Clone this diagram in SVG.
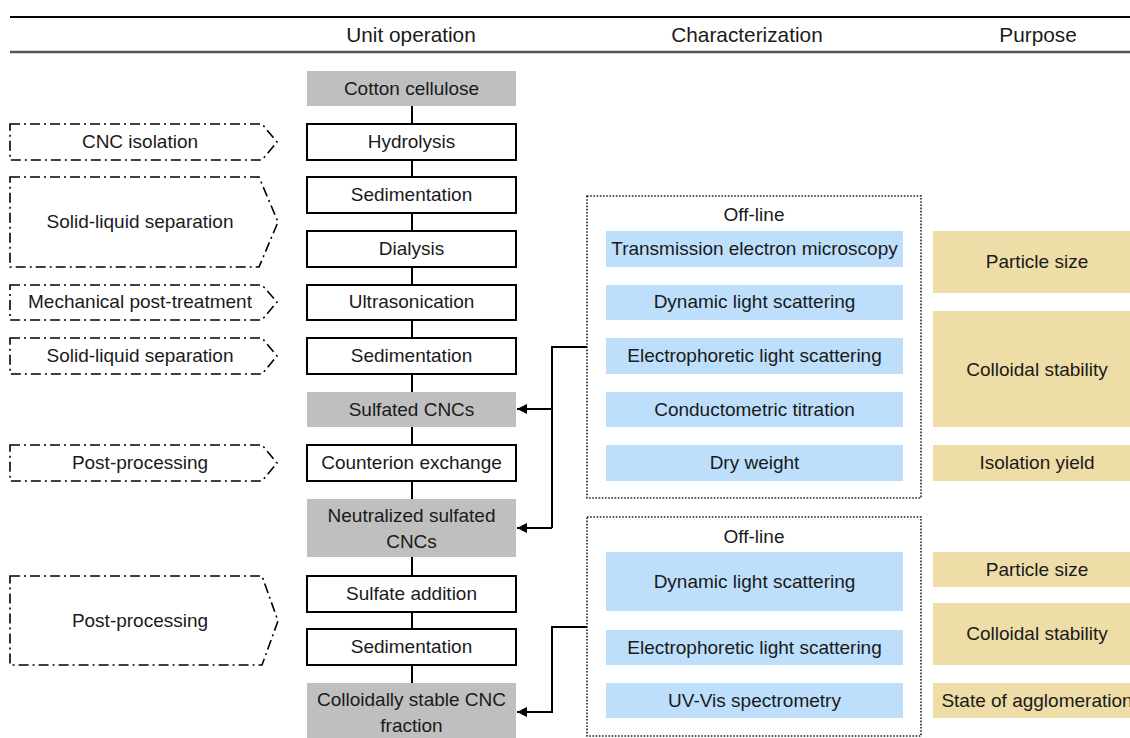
<svg xmlns="http://www.w3.org/2000/svg" width="1130" height="738" viewBox="0 0 1130 738">
  <defs>
    <style>
      text { font-family: "Liberation Sans", Arial, sans-serif; font-size: 19px; fill: #1a1a1a; text-anchor: middle; }
      .head { font-size: 20.8px; }
      .op { fill: #ffffff; stroke: #000000; stroke-width: 2; }
      .mat { fill: #bfbfbf; stroke: none; }
      .step { fill: #ffffff; stroke: #000000; stroke-width: 1.6; stroke-dasharray: 10 4 2 4; }
      .frame { fill: #ffffff; stroke: #222222; stroke-width: 1.6; stroke-dasharray: 1.6 1.6; }
      .meth { fill: #bddffb; stroke: none; }
      .goal { fill: #eedda6; stroke: none; }
      .link { fill: none; stroke: #000000; stroke-width: 2; }
    </style>
    <marker id="arrow" viewBox="0 0 10 10" refX="10" refY="5" markerWidth="10" markerHeight="10" markerUnits="userSpaceOnUse" orient="auto">
      <path d="M0,0 L10,5 L0,10 Z" fill="#000000"/>
    </marker>
  </defs>
  <rect width="1130" height="738" fill="#ffffff"/>

  <!-- table header -->
  <g id="header">
    <line x1="10" y1="17" x2="1130" y2="17" stroke="#000000" stroke-width="2"/>
    <line x1="10" y1="52" x2="1130" y2="52" stroke="#555555" stroke-width="2.5"/>
    <text class="head" x="411" y="42">Unit operation</text>
    <text class="head" x="747" y="42">Characterization</text>
    <text class="head" x="1038" y="42">Purpose</text>
  </g>

  <!-- process chain and characterization links -->
  <g id="connectors">
    <line class="link" x1="412" y1="106" x2="412" y2="683"/>
    <polyline class="link" points="587,347 552,347 552,528"/>
    <line class="link" x1="552" y1="409" x2="517" y2="409" marker-end="url(#arrow)"/>
    <line class="link" x1="552" y1="528" x2="517" y2="528" marker-end="url(#arrow)"/>
    <polyline class="link" points="587,627 552,627 552,712 517,712" marker-end="url(#arrow)"/>
  </g>

  <!-- process step categories -->
  <g id="step-cnc-isolation">
    <polygon class="step" points="10,124 262,124 277,142 262,160 10,160"/>
    <text x="140" y="148">CNC isolation</text>
  </g>
  <g id="step-separation-1">
    <polygon class="step" points="10,177 259,177 278,222 259,267 10,267"/>
    <text x="140" y="228">Solid-liquid separation</text>
  </g>
  <g id="step-mechanical">
    <polygon class="step" points="10,285 262,285 277,302 262,320 10,320"/>
    <text x="140" y="308">Mechanical post-treatment</text>
  </g>
  <g id="step-separation-2">
    <polygon class="step" points="10,338 262,338 277,356 262,374 10,374"/>
    <text x="140" y="362">Solid-liquid separation</text>
  </g>
  <g id="step-post-processing-1">
    <polygon class="step" points="10,445 262,445 277,463 262,481 10,481"/>
    <text x="140" y="469">Post-processing</text>
  </g>
  <g id="step-post-processing-2">
    <polygon class="step" points="10,576 262,576 278,621 262,665 10,665"/>
    <text x="140" y="627">Post-processing</text>
  </g>

  <!-- unit operations -->
  <g id="cotton-cellulose">
    <rect class="mat" x="307" y="71" width="209" height="35"/>
    <text x="411.5" y="94.5">Cotton cellulose</text>
  </g>
  <g id="hydrolysis">
    <rect class="op" x="307" y="124" width="209" height="36"/>
    <text x="411.5" y="148">Hydrolysis</text>
  </g>
  <g id="sedimentation-1">
    <rect class="op" x="307" y="177" width="209" height="36"/>
    <text x="411.5" y="201">Sedimentation</text>
  </g>
  <g id="dialysis">
    <rect class="op" x="307" y="231" width="209" height="36"/>
    <text x="411.5" y="255">Dialysis</text>
  </g>
  <g id="ultrasonication">
    <rect class="op" x="307" y="285" width="209" height="35"/>
    <text x="411.5" y="308">Ultrasonication</text>
  </g>
  <g id="sedimentation-2">
    <rect class="op" x="307" y="338" width="209" height="36"/>
    <text x="411.5" y="362">Sedimentation</text>
  </g>
  <g id="sulfated-cncs">
    <rect class="mat" x="307" y="392" width="209" height="35"/>
    <text x="411.5" y="415.5">Sulfated CNCs</text>
  </g>
  <g id="counterion-exchange">
    <rect class="op" x="307" y="445" width="209" height="36"/>
    <text x="411.5" y="469">Counterion exchange</text>
  </g>
  <g id="neutralized-cncs">
    <rect class="mat" x="307" y="499" width="209" height="58"/>
    <text x="411.5" y="521.5">Neutralized sulfated</text>
    <text x="411.5" y="547.5">CNCs</text>
  </g>
  <g id="sulfate-addition">
    <rect class="op" x="307" y="576" width="209" height="36"/>
    <text x="411.5" y="600">Sulfate addition</text>
  </g>
  <g id="sedimentation-3">
    <rect class="op" x="307" y="629" width="209" height="36"/>
    <text x="411.5" y="653">Sedimentation</text>
  </g>
  <g id="stable-fraction">
    <rect class="mat" x="307" y="683" width="209" height="56"/>
    <text x="411.5" y="705.5">Colloidally stable CNC</text>
    <text x="411.5" y="731.5">fraction</text>
  </g>

  <!-- characterization of sulfated and neutralized CNCs -->
  <g id="offline-1">
    <rect class="frame" x="587" y="196" width="334" height="302"/>
    <text x="754" y="220.5">Off-line</text>
  </g>
  <g id="tem">
    <rect class="meth" x="606" y="231" width="297" height="36"/>
    <text x="754.5" y="255">Transmission electron microscopy</text>
  </g>
  <g id="dls-1">
    <rect class="meth" x="606" y="285" width="297" height="35"/>
    <text x="754.5" y="308">Dynamic light scattering</text>
  </g>
  <g id="els-1">
    <rect class="meth" x="606" y="338" width="297" height="36"/>
    <text x="754.5" y="362">Electrophoretic light scattering</text>
  </g>
  <g id="conductometric">
    <rect class="meth" x="606" y="392" width="297" height="35"/>
    <text x="754.5" y="415.5">Conductometric titration</text>
  </g>
  <g id="dry-weight">
    <rect class="meth" x="606" y="445" width="297" height="36"/>
    <text x="754.5" y="469">Dry weight</text>
  </g>

  <!-- characterization of the stable fraction -->
  <g id="offline-2">
    <rect class="frame" x="587" y="517" width="334" height="219"/>
    <text x="754" y="542.5">Off-line</text>
  </g>
  <g id="dls-2">
    <rect class="meth" x="606" y="552" width="297" height="59"/>
    <text x="754.5" y="587.5">Dynamic light scattering</text>
  </g>
  <g id="els-2">
    <rect class="meth" x="606" y="630" width="297" height="35"/>
    <text x="754.5" y="653.5">Electrophoretic light scattering</text>
  </g>
  <g id="uv-vis">
    <rect class="meth" x="606" y="683" width="297" height="35"/>
    <text x="754.5" y="706.5">UV-Vis spectrometry</text>
  </g>

  <!-- purposes -->
  <g id="particle-size-1">
    <rect class="goal" x="933" y="231" width="197" height="62"/>
    <text x="1037" y="267.5">Particle size</text>
  </g>
  <g id="colloidal-stability-1">
    <rect class="goal" x="933" y="311" width="197" height="116"/>
    <text x="1037" y="375.5">Colloidal stability</text>
  </g>
  <g id="isolation-yield">
    <rect class="goal" x="933" y="445" width="197" height="36"/>
    <text x="1037" y="469">Isolation yield</text>
  </g>
  <g id="particle-size-2">
    <rect class="goal" x="933" y="552" width="197" height="35"/>
    <text x="1037" y="575.5">Particle size</text>
  </g>
  <g id="colloidal-stability-2">
    <rect class="goal" x="933" y="603" width="197" height="62"/>
    <text x="1037" y="639.5">Colloidal stability</text>
  </g>
  <g id="agglomeration">
    <rect class="goal" x="933" y="683" width="197" height="35"/>
    <text x="1037" y="706.5">State of agglomeration</text>
  </g>
</svg>
